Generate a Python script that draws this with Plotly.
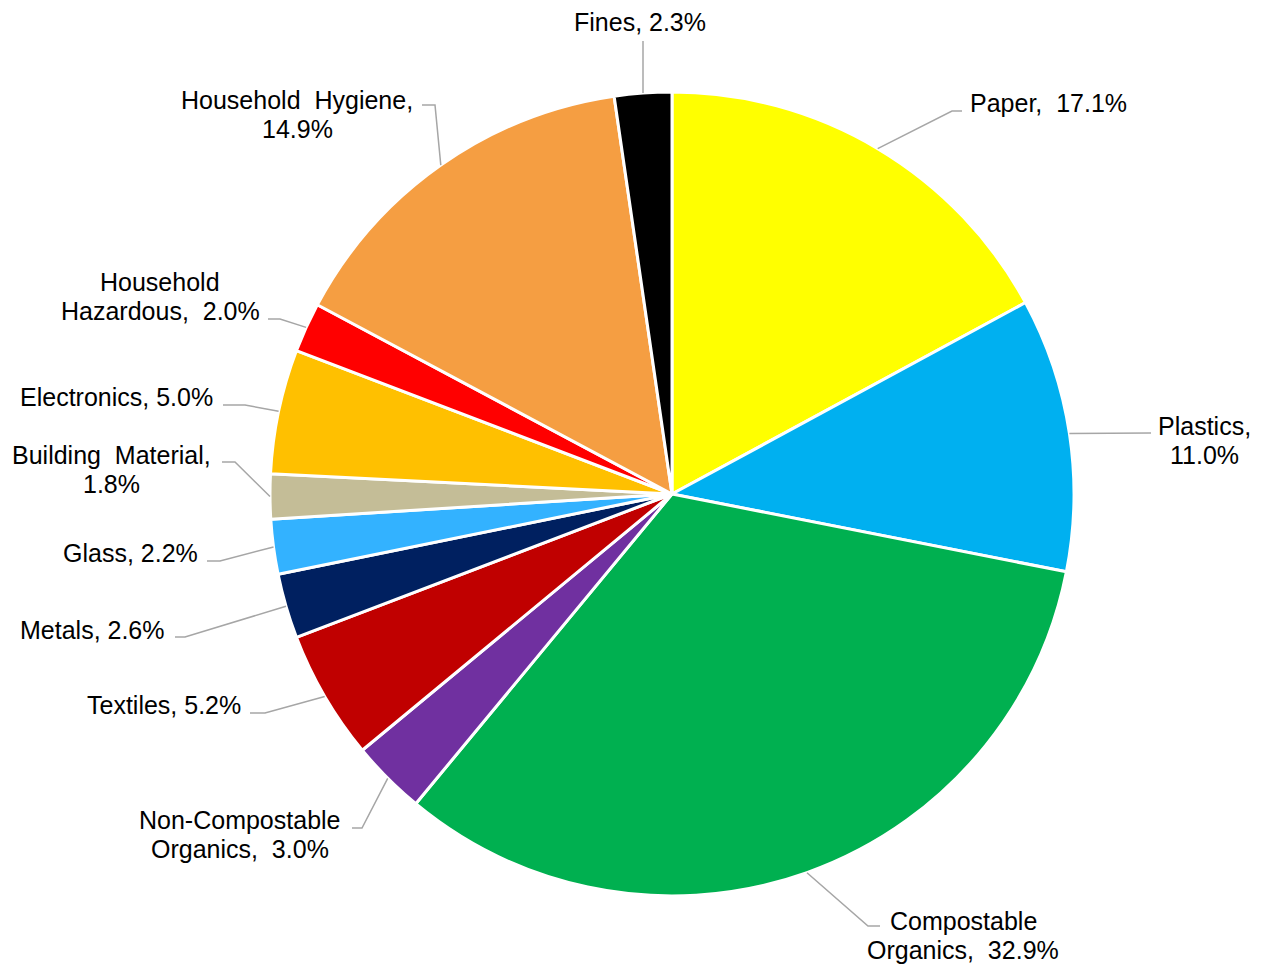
import math
import plotly.graph_objects as go

# Waste composition data (percent of total)
categories = [
    "Paper", "Plastics", "Compostable Organics", "Non-Compostable Organics",
    "Textiles", "Metals", "Glass", "Building Material", "Electronics",
    "Household Hazardous", "Household Hygiene", "Fines",
]
shares = [17.1, 11.0, 32.9, 3.0, 5.2, 2.6, 2.2, 1.8, 5.0, 2.0, 14.9, 2.3]
label_texts = [
    "Paper,  17.1%", "Plastics,<br>11.0%", "Compostable<br>Organics,  32.9%",
    "Non-Compostable<br>Organics,  3.0%", "Textiles, 5.2%", "Metals, 2.6%",
    "Glass, 2.2%", "Building  Material,<br>1.8%", "Electronics, 5.0%",
    "Household<br>Hazardous,  2.0%", "Household  Hygiene,<br>14.9%", "Fines, 2.3%",
]
colors = [
    "#FFFF00", "#00B0F0", "#00B050", "#7030A0", "#C00000", "#002060",
    "#33B2FF", "#C4BD97", "#FFC000", "#FF0000", "#F59E42", "#000000",
]

# Canvas / pie geometry in pixels
W, H = 1261, 964
CX, CY, R = 672, 494, 402
FONT_SIZE = 25
LINE_GAP = 29

# Label placement: (x, y of block centre, xanchor) and leader-line bend/end points
label_pos = [
    (968, 103, "left"), (1204, 440, "center"), (963, 935, "center"),
    (240, 834, "center"), (243, 705, "right"), (167, 630, "right"),
    (200, 553, "right"), (111, 469, "center"), (215, 397, "right"),
    (160, 296, "center"), (297, 114, "center"), (640, 22, "center"),
]
leader_pts = [
    [(952, 111), (962, 111)], [(1151, 433)], [(868, 926), (880, 926)],
    [(362, 828), (352, 828)], [(265, 713), (250, 713)], [(185, 637), (175, 637)],
    [(220, 561), (207, 561)], [(235, 462), (222, 462)], [(245, 405), (223, 405)],
    [(280, 319), (268, 319)], [(435, 105), (422, 105)], [(643, 41)],
]

fig = go.Figure()
fig.add_trace(go.Pie(
    labels=categories,
    values=shares,
    sort=False,
    direction="clockwise",
    rotation=0,
    marker=dict(colors=colors, line=dict(color="white", width=3)),
    textinfo="none",
    hoverinfo="label+percent",
    showlegend=False,
    domain=dict(x=[(CX - R) / W, (CX + R) / W],
                y=[(H - CY - R) / H, (H - CY + R) / H]),
))
# invisible helper trace so the pixel-unit axes exist
fig.add_trace(go.Scatter(x=[], y=[], showlegend=False))

total = sum(shares)
cum = 0.0
shapes = []
annotations = []
for name, val, text, (lx, ly, anc), pts in zip(categories, shares, label_texts,
                                               label_pos, leader_pts):
    mid = (cum + val / 2) / total * 2 * math.pi
    cum += val
    sx = CX + R * math.sin(mid)
    sy = CY - R * math.cos(mid)
    path = f"M {sx:.1f} {sy:.1f}" + "".join(f" L {px} {py}" for px, py in pts)
    shapes.append(dict(type="path", path=path, xref="x", yref="y",
                       line=dict(color="#A6A6A6", width=1.5)))
    lines = text.split("<br>")
    top = ly - LINE_GAP * (len(lines) - 1) / 2
    for i, line in enumerate(lines):
        annotations.append(dict(x=lx, y=top + i * LINE_GAP, xref="x", yref="y",
                                text=line, showarrow=False, xanchor=anc,
                                yanchor="middle", align="center",
                                font=dict(family="Liberation Sans, Arial",
                                          size=FONT_SIZE, color="#000000")))

fig.update_layout(
    width=W, height=H,
    margin=dict(l=0, r=0, t=0, b=0),
    paper_bgcolor="white", plot_bgcolor="rgba(0,0,0,0)",
    xaxis=dict(range=[0, W], visible=False, fixedrange=True),
    yaxis=dict(range=[H, 0], visible=False, fixedrange=True),
    shapes=shapes,
    annotations=annotations,
)

fig.write_html("out.html")
